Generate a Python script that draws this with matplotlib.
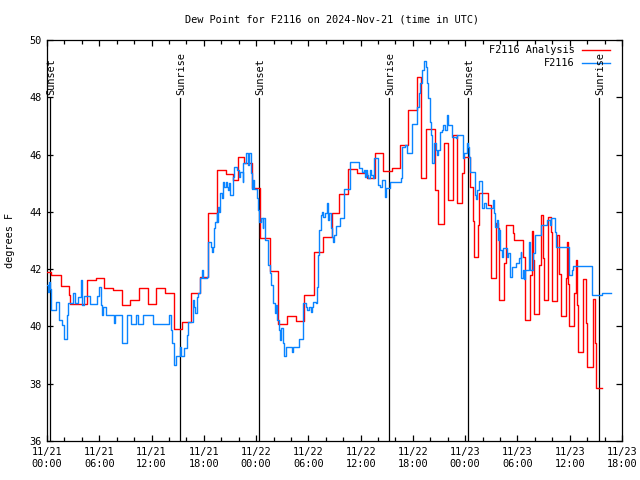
import matplotlib
matplotlib.use("Agg")
import matplotlib.pyplot as plt
from matplotlib.ticker import MultipleLocator

# ---------------- data (hours since 2024-11-21 00:00 UTC) ----------------
analysis_hours = [0, 0.46, 1.60, 2.53, 2.64, 4.63, 5.62, 6.58, 7.61, 8.57, 9.57, 10.60,
                  11.56, 12.55, 13.55, 14.54, 15.50, 16.49, 17.57, 18.52, 19.48, 20.55,
                  21.31, 21.97, 22.62, 23.57, 24.46, 25.60, 26.56, 27.55, 28.57, 29.52,
                  30.64, 31.70, 32.68, 33.55, 34.59, 35.56, 36.68, 37.66, 38.61, 39.58,
                  40.53, 41.41, 42.44, 42.94, 43.48, 44.54, 44.92, 45.62, 46.00, 46.64,
                  47.03, 47.61, 47.92, 48.50, 48.94, 49.06, 49.52, 49.64, 50.60, 50.91,
                  51.51, 51.82, 51.93, 52.51, 52.66, 53.54, 53.65, 54.61, 54.81, 54.88,
                  55.49, 55.64, 55.84, 55.95, 56.53, 56.68, 56.91, 56.99, 57.55, 57.86,
                  57.94, 58.51, 58.59, 58.82, 58.98, 59.54, 59.66, 59.85, 59.93, 60.54,
                  60.70, 60.89, 61.00, 61.58, 61.91, 62.03, 62.65, 62.72, 62.92, 63.03,
                  63.69]
analysis_values = [41.91, 41.78, 41.41, 41.10, 40.78, 41.61, 41.69, 41.34, 41.27, 40.75,
                   40.91, 41.34, 40.77, 41.34, 41.16, 39.90, 40.14, 41.16, 41.71, 43.97,
                   45.46, 45.31, 45.11, 45.91, 45.70, 44.84, 43.08, 41.94, 40.10, 40.36,
                   40.19, 41.10, 42.61, 43.13, 43.97, 44.61, 45.50, 45.35, 45.17, 46.04,
                   45.43, 45.52, 46.34, 47.56, 48.72, 45.17, 46.89, 44.76, 43.57, 46.39,
                   44.41, 46.68, 44.32, 45.35, 45.93, 44.88, 43.68, 42.44, 43.54, 44.65,
                   44.24, 41.68, 43.60, 43.43, 40.92, 42.23, 43.54, 43.27, 43.02, 42.44,
                   41.68, 40.22, 41.80, 43.33, 42.32, 40.42, 42.15, 43.89, 42.38, 40.92,
                   43.83, 43.31, 40.89, 42.09, 43.19, 41.82, 40.38, 41.68, 42.94, 41.47,
                   40.03, 41.18, 42.32, 40.75, 39.10, 41.66, 40.11, 38.57, 39.76, 40.95,
                   39.41, 37.84, 37.84]

obs_hours = [0, 0.10, 0.20, 0.30, 0.46, 1.04, 1.37, 1.68, 1.99, 2.26, 2.37, 3.03, 3.22,
             3.59, 3.90, 4.06, 4.29, 4.94, 5.70, 6.01, 6.20, 6.35, 6.47, 6.74, 7.73, 7.80,
             8.65, 9.23, 9.65, 10.18, 10.41, 11.06, 12.20, 14.01, 14.23, 14.38, 14.62,
             14.77, 15.27, 15.39, 15.77, 16.12, 16.22, 16.72, 16.87, 16.99, 17.26, 17.38,
             17.57, 17.76, 17.95, 18.41, 18.52, 18.83, 18.90, 19.02, 19.17, 19.29, 19.48,
             19.56, 19.67, 19.79, 19.86, 20.06, 20.17, 20.25, 20.36, 20.55, 20.70, 20.81,
             20.93, 21.00, 21.31, 21.39, 21.51, 21.78, 22.08, 22.16, 22.47, 22.54, 22.84,
             23.11, 23.22, 23.42, 23.49, 23.69, 23.80, 24.07, 24.27, 24.38, 24.53, 24.76,
             24.84, 25.02, 25.33, 25.60, 25.71, 25.91, 26.18, 26.29, 26.44, 26.68, 26.75,
             26.87, 27.05, 27.21, 27.43, 28.09, 28.20, 28.98, 29.35, 29.43, 29.73, 29.89,
             30.12, 30.27, 30.39, 30.58, 30.89, 31.04, 31.16, 31.27, 31.43, 31.53, 31.65,
             31.91, 32.11, 32.22, 32.30, 32.41, 32.57, 32.68, 32.79, 32.95, 33.14, 33.63,
             34.13, 34.79, 35.83, 36.20, 36.43, 36.51, 36.62, 36.70, 36.89, 37.09, 37.20,
             37.47, 37.58, 37.96, 38.23, 38.42, 38.81, 38.92, 39.38, 40.64, 40.72, 41.10,
             41.29, 41.95, 42.44, 42.71, 42.82, 43.09, 43.32, 43.47, 43.59, 43.78, 43.97,
             44.09, 44.17, 44.47, 44.62, 44.73, 44.92, 45.12, 45.39, 45.50, 45.70, 45.89,
             46.08, 46.53, 46.92, 47.03, 47.72, 47.92, 48.19, 48.30, 48.45, 48.57, 49.07,
             49.21, 49.33, 49.64, 49.98, 50.17, 50.40, 51.24, 51.32, 51.43, 51.62, 51.82,
             51.93, 52.01, 52.20, 52.39, 52.85, 52.97, 53.15, 53.34, 53.81, 54.23, 54.38,
             54.42, 54.69, 54.77, 54.88, 55.37, 55.45, 55.84, 56.03, 56.68, 57.37, 57.75,
             57.86, 58.33, 58.44, 59.93, 60.28, 60.43, 62.53, 63.69, 64.70]
obs_values = [41.45, 41.20, 41.56, 41.30, 40.57, 40.86, 40.22, 40.05, 39.56, 40.40, 40.83,
              41.16, 40.83, 41.04, 41.62, 40.75, 41.07, 40.80, 41.07, 41.39, 40.75, 40.40,
              40.69, 40.40, 40.11, 40.40, 39.41, 40.40, 40.09, 40.40, 40.09, 40.40, 40.09,
              40.40, 39.88, 39.41, 38.65, 38.97, 39.29, 38.97, 39.24, 39.70, 40.17, 40.92,
              40.69, 40.46, 41.04, 41.16, 41.68, 41.97, 41.68, 41.74, 42.96, 42.78, 42.61,
              42.78, 43.43, 43.66, 43.95, 43.66, 44.18, 44.01, 44.65, 44.47, 44.71, 45.05,
              44.88, 45.05, 44.88, 44.76, 45.00, 44.59, 45.00, 45.23, 45.58, 45.46, 45.23,
              45.40, 45.05, 45.70, 46.07, 45.64, 46.05, 45.35, 44.79, 45.11, 44.79, 44.47,
              44.07, 43.66, 43.78, 43.43, 43.78, 43.02, 42.15, 41.85, 41.45, 40.81, 40.46,
              40.75, 40.22, 39.88, 39.53, 39.93, 39.41, 38.97, 39.29, 39.12, 39.29, 39.55,
              39.99, 40.81, 40.69, 40.57, 40.69, 40.52, 40.69, 40.86, 40.81, 41.39, 42.49,
              43.37, 43.89, 44.01, 43.83, 43.95, 44.30, 44.07, 43.72, 43.95, 43.43, 43.13,
              42.96, 43.19, 43.51, 43.78, 44.79, 45.75, 45.52, 45.40, 45.46, 45.23, 45.46,
              45.29, 45.17, 45.46, 45.29, 45.17, 45.87, 44.94, 44.88, 45.11, 44.53, 44.82,
              45.05, 45.17, 46.28, 46.34, 46.05, 47.06, 47.67, 48.14, 48.49, 48.95, 49.27,
              49.07, 48.49, 47.97, 47.15, 46.68, 45.70, 46.39, 46.16, 45.99, 46.16, 46.80,
              46.86, 47.03, 46.86, 47.38, 47.03, 46.63, 46.57, 46.68, 45.87, 46.05, 46.39,
              46.28, 45.93, 45.40, 44.59, 44.44, 44.76, 45.09, 44.12, 44.30, 44.12, 44.41,
              43.95, 43.48, 43.72, 43.02, 43.37, 42.67, 42.44, 42.73, 42.44, 42.56, 41.74,
              42.09, 42.21, 42.38, 42.61, 41.68, 41.97, 41.65, 41.97, 42.96, 41.97, 42.56,
              43.19, 43.54, 43.72, 43.54, 43.78, 43.31, 42.78, 41.80, 41.97, 42.11, 41.10,
              41.16, 41.16]

sun_hours = [0.34, 15.27, 24.37, 39.30, 48.37, 63.41]
sun_labels = ["Sunset", "Sunrise", "Sunset", "Sunrise", "Sunset", "Sunrise"]

xtick_hours = list(range(0, 67, 6))
xtick_labels = ["11/21\n00:00", "11/21\n06:00", "11/21\n12:00", "11/21\n18:00",
                "11/22\n00:00", "11/22\n06:00", "11/22\n12:00", "11/22\n18:00",
                "11/23\n00:00", "11/23\n06:00", "11/23\n12:00", "11/23\n18:00"]
ytick_values = [36, 38, 40, 42, 44, 46, 48, 50]

series_names = ["F2116 Analysis", "F2116"]

# ---------------- drawing ----------------
FONT = "DejaVu Sans Mono"
FS = 7.4
plt.rcParams["font.family"] = [FONT]

fig = plt.figure(figsize=(6.4, 4.8), dpi=100)
ax = fig.add_axes([47 / 640, 39 / 480, 575 / 640, 401 / 480])

RED = "#ff0000"
BLUE = "#0a84ff"
LW = 1.0

ax.step(analysis_hours, analysis_values, where="post", color=RED, lw=LW, zorder=3)
ax.step(obs_hours, obs_values, where="post", color=BLUE, lw=LW, zorder=4)

for h, lab in zip(sun_hours, sun_labels):
    ax.plot([h, h], [36, 47.98], color="black", lw=0.9, zorder=2)
    ax.text(h + 0.15, 48.08, lab, rotation=90, ha="center", va="bottom",
            fontsize=FS, family=FONT)

ax.set_xlim(0, 66)
ax.set_ylim(36, 50)
ax.set_xticks(xtick_hours)
ax.set_xticklabels(xtick_labels, fontsize=FS, family=FONT, linespacing=1.35)
ax.xaxis.set_minor_locator(MultipleLocator(2))
ax.set_yticks(ytick_values)
ax.set_yticklabels([str(v) for v in ytick_values], fontsize=FS, family=FONT)
ax.tick_params(which="both", direction="in", top=True, right=True, width=0.9)
ax.tick_params(which="major", length=4.5, pad=4)
ax.tick_params(which="minor", length=3)
for sp in ax.spines.values():
    sp.set_linewidth(0.9)

ax.set_ylabel("degrees F", fontsize=FS, family=FONT, labelpad=10)

fig.text(332 / 640, 1 - 19 / 480, "Dew Point for F2116 on 2024-Nov-21 (time in UTC)",
         ha="center", va="center", fontsize=FS, family=FONT)

# legend (top-right, text right-aligned, sample line to the right)
for i, (name, col) in enumerate(zip(series_names, [RED, BLUE])):
    yy = 0.975 - i * 0.032
    ax.text(0.918, yy, name, transform=ax.transAxes, ha="right", va="center",
            fontsize=FS, family=FONT)
    ax.plot([0.930, 0.979], [yy, yy], transform=ax.transAxes, color=col, lw=LW)

fig.savefig("out.png", dpi=100)
